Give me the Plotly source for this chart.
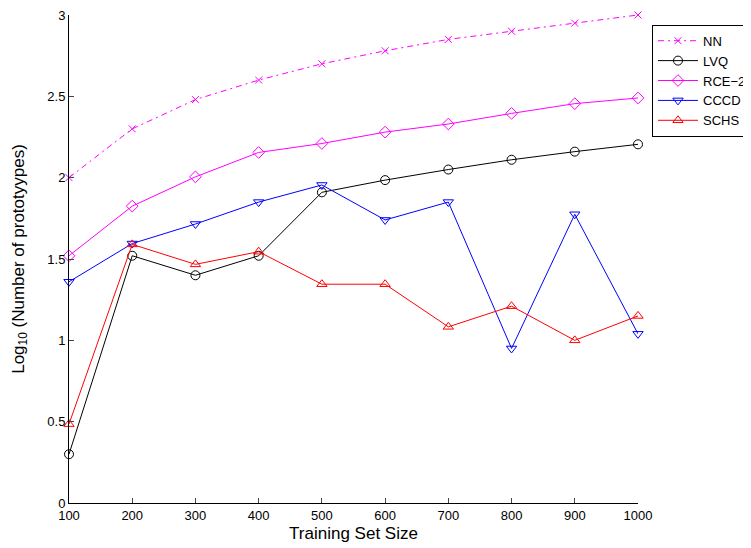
import plotly.graph_objects as go

sizes = [100, 200, 300, 400, 500, 600, 700, 800, 900, 1000]
nn = [2.0, 2.30, 2.48, 2.60, 2.70, 2.78, 2.85, 2.90, 2.95, 3.0]
lvq = [0.30, 1.52, 1.40, 1.52, 1.91, 1.985, 2.05, 2.11, 2.16, 2.205]
rce = [1.52, 1.825, 2.005, 2.155, 2.21, 2.28, 2.33, 2.395, 2.455, 2.49]
cccd = [1.36, 1.595, 1.715, 1.85, 1.955, 1.74, 1.85, 0.95, 1.775, 1.04]
schs = [0.485, 1.59, 1.467, 1.545, 1.345, 1.345, 1.083, 1.21, 1.0, 1.15]
x_ticks = [100, 200, 300, 400, 500, 600, 700, 800, 900, 1000]
y_ticks = [0, 0.5, 1, 1.5, 2, 2.5, 3]
y_tick_text = ["0", "0.5", "1", "1.5", "2", "2.5", "3"]

series = [
    ("NN", nn, "#ff00ff", "x-thin-open", "6px,4px,2px,4px"),
    ("LVQ", lvq, "#000000", "circle-open", "solid"),
    ("RCE\u22122", rce, "#ff00ff", "diamond-open", "solid"),
    ("CCCD", cccd, "#0000ff", "triangle-down-open", "solid"),
    ("SCHS", schs, "#ff0000", "triangle-up-open", "solid"),
]

fig = go.Figure()
for name, vals, color, sym, dash in series:
    fig.add_trace(go.Scatter(
        x=sizes, y=vals, name=name, mode="lines+markers",
        line=dict(color=color, width=1, dash=dash),
        marker=dict(symbol=sym, size=9 if sym != "x-thin-open" else 7,
                    color=color, line=dict(color=color, width=1)),
        cliponaxis=False,
    ))

axis_font = dict(family="Liberation Sans, Arial, sans-serif", size=13, color="black")
fig.update_layout(
    width=743, height=540,
    margin=dict(l=61, r=113, t=7, b=45, autoexpand=False),
    paper_bgcolor="white", plot_bgcolor="white",
    font=dict(family="Liberation Sans, Arial, sans-serif", color="black"),
    showlegend=True,
    legend=dict(
        x=1.0246, y=0.98, xanchor="left", yanchor="top",
        bordercolor="black", borderwidth=1, bgcolor="white",
        font=dict(family="Liberation Sans, Arial, sans-serif", size=13, color="black"),
        itemwidth=40, tracegroupgap=0,
    ),
    xaxis=dict(
        range=[100, 1000], tickvals=x_ticks, ticks="inside", ticklen=5,
        showline=True, linecolor="black", linewidth=1, showgrid=False,
        zeroline=False, tickfont=axis_font, mirror=False, automargin=False,
        ticklabeloverflow="allow",
        title=dict(text="Training Set Size", font=dict(size=17), standoff=5),
    ),
    yaxis=dict(
        range=[0, 3], tickvals=y_ticks, ticktext=y_tick_text, ticks="inside", ticklen=5,
        showline=True, linecolor="black", linewidth=1, showgrid=False,
        zeroline=False, tickfont=axis_font, mirror=False, automargin=False,
        ticklabeloverflow="allow",
        title=dict(text="Log<sub>10</sub> (Number of prototyypes)", font=dict(size=17), standoff=18),
    ),
)

fig.write_html("out.html")
